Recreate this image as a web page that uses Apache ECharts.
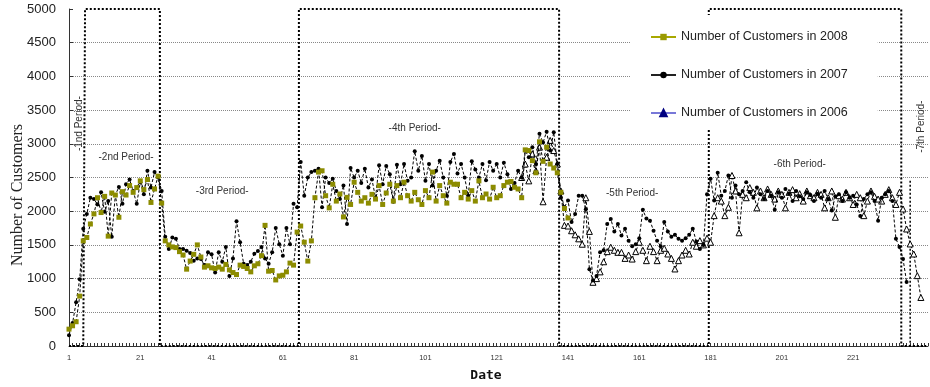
<!DOCTYPE html>
<html>
<head>
<meta charset="utf-8">
<script src="https://cdn.jsdelivr.net/npm/echarts@6/dist/echarts.min.js"></script>
<style>html,body{margin:0;padding:0;background:#fff}#c{width:930px;height:387px}</style>
</head>
<body>
<div id="c"></div>
<script>
// ---------- data ----------
const dayCount = 242;
const days = Array.from({length: dayCount}, (_, i) => String(i + 1));
const tickLabelDays = ['1','21','41','61','81','101','121','141','161','181','201','221'];

const customers2008Start = 1;
const customers2008 = [
  250, 300, 360, 740, 1560, 1610, 1810, 1960, 2200, 1980,
  2220, 1630, 2270, 2240, 1910, 2290, 2240, 2380, 2280, 2350,
  2450, 2320, 2470, 2130, 2330, 2520, 2120,
  1560, 1500, 1470, 1460, 1400, 1350, 1140, 1260, 1360, 1500, 1320, 1170, 1190,
  1160, 1150, 1170, 1140, 1210, 1130, 1090, 1060, 1200, 1180,
  1150, 1100, 1190, 1220, 1340, 1790, 1110, 1120, 980, 1040,
  1050, 1100, 1230, 1200, 1690, 1780, 1540, 1260, 1560,
  2200, 2580, 2600, 2230, 2050, 2400, 2150, 2255, 1915, 2205, 2100,
  2430, 2280, 2150, 2200, 2120, 2250, 2180, 2380, 2100, 2270,
  2400, 2150, 2380, 2200, 2430, 2230, 2150, 2280, 2170, 2100,
  2305, 2200, 2580, 2150, 2380, 2230, 2120, 2430, 2400, 2400,
  2200, 2280, 2180, 2305, 2150, 2450, 2200, 2255, 2180, 2355,
  2200, 2230, 2380, 2430, 2440, 2355, 2330, 2200, 2910, 2900,
  2750, 2570, 3030, 2740, 2950, 2700, 2640, 2570, 2280, 2040, 1900
];

const customers2007Start = 1;
const customers2007 = [
  160, 340, 650, 990, 1740, 1960, 2200, 2180, 2100, 2280,
  1990, 2150, 1620, 2240, 2360, 2110, 2400, 2470, 2300, 2110,
  2430, 2250, 2600, 2350, 2580, 2500, 2300,
  1620, 1440, 1610, 1590, 1440, 1440, 1415, 1380, 1265, 1300, 1290, 1200, 1390,
  1360, 1090, 1390, 1250, 1470, 1040, 1300, 1850, 1540, 1220,
  1200, 1250, 1370, 1410, 1470, 1300, 1220, 1390, 1750, 1510,
  1340, 1750, 1510, 2110, 2060, 2730, 2230, 2500, 2580,
  2600, 2630, 2060, 2500, 2420, 2480, 2300, 2180, 2380, 1810, 2640,
  2500, 2600, 2420, 2630, 2350, 2470, 2200, 2680, 2400, 2670,
  2550, 2140, 2690, 2400, 2700, 2450, 2500, 2890, 2600, 2820,
  2450, 2700, 2380, 2600, 2750, 2500, 2230, 2730, 2850, 2560,
  2700, 2500, 2230, 2740, 2620, 2500, 2700, 2460, 2730, 2600,
  2700, 2500, 2720, 2550, 2330, 2420, 2600, 2500, 2900, 2800,
  2950, 2700, 3150, 3020, 3180, 2900, 3170, 2700, 2200, 2060,
  2160, 1840, 1960, 2230, 2230, 2030, 1140, 970, 1040, 1390,
  1420, 1810, 1885, 1700, 1810, 1640, 1740, 1560, 1480, 1510,
  1600, 2020, 1890, 1860, 1710, 1560, 1480, 1840, 1700, 1620,
  1650, 1590, 1560, 1600, 1650, 1740, 1550, 1440, 1500, 2250,
  2480, 2160, 2570, 2230, 2300, 2530, 2200, 2380, 2250, 2300,
  2430, 2280, 2200, 2350, 2250, 2180, 2300, 2230, 2020, 2280,
  2200, 2330, 2260, 2150, 2300, 2220, 2180, 2280, 2240, 2150,
  2260, 2200, 2300, 2180, 2010, 2220, 2250, 2150, 2280, 2200,
  2230, 2100, 1930, 2180, 2250, 2280, 2150, 1860, 2200, 2250,
  2300, 2150, 1590, 1470, 1290, 950
];

const customers2006Start = 128;
const customers2006 = [
  2500, 2700, 2450, 2850, 2600, 2950, 2140, 2800, 3050, 2900, 2700, 2300, 1790,
  1780, 1710, 1650, 1590, 1510, 2200, 1700, 945, 1000, 1100,
  1250, 1400, 1465, 1420, 1390, 1390, 1300, 1350, 1290, 1400,
  1540, 1420, 1266, 1480, 1400, 1266, 1420, 1450, 1365, 1300,
  1143, 1266, 1350, 1420, 1365, 1539, 1480, 1563, 1500, 1600,
  1539, 1934, 2200, 2150, 1934, 2058, 2530, 2300, 1680, 2250,
  2200, 2350, 2280, 2050, 2300, 2200, 2330, 2250, 2180, 2300,
  2250, 2050, 2280, 2320, 2200, 2260, 2150, 2300, 2230, 2200,
  2280, 2250, 2050, 2200, 2300, 1910, 2230, 2180, 2280, 2200,
  2100, 2250, 2200, 1934, 2150, 2300, 2220, 2180, 2150, 2250,
  2320, 2200, 2100, 2280, 2033, 1736, 1514, 1365, 1044, 720
];

// period structure: last day of periods 1..6, last day drawn, high/low level
const periodLastDays = [5, 26, 65, 138, 180, 234];
const periodLineEndDay = 241;
const periodHigh = 5000;
const periodLow = 0;
// secondary boundary of the 7th period
const seventhBoundary = { day: '237', top: 2450, endDay: '241' };

const periodNames = ['-1nd Period-', '-2nd Period-', '-3rd Period-', '-4th Period-', '-5th Period-', '-6th Period-', '-7th Period-'];
// label anchors (day, value, rotation) - layout only
const periodLabelDays = ['4', '17', '44', '98', '159', '206', '240'];
const periodLabelValues = [3300, 2800, 2290, 3230, 2266, 2696, 3254];
const periodLabelRotate = [90, 0, 0, 0, 0, 0, 90];

const seriesNames = ['Number of Customers in 2008', 'Number of Customers in 2007', 'Number of Customers in 2006'];

// ---------- build ----------
function place(values, startDay) {
  const out = new Array(dayCount).fill(null);
  values.forEach((v, i) => { out[startDay - 1 + i] = v; });
  return out;
}
const periodLevels = days.map((d, i) => {
  const day = i + 1;
  if (day > periodLineEndDay) return null;
  const k = periodLastDays.filter(e => day > e).length;
  return k % 2 ? periodHigh : periodLow;
});

const FONT = 'Liberation Sans';
const chart = echarts.init(document.getElementById('c'), null, {renderer: 'canvas'});
const dashed = {color: '#000', width: 1, type: [3, 2]};

chart.setOption({
  animation: false,
  backgroundColor: '#fff',
  textStyle: {fontFamily: FONT},
  grid: {left: 69, right: 2, top: 9, bottom: 41},
  xAxis: {
    type: 'category', data: days, boundaryGap: false,
    axisLine: {lineStyle: {color: '#333', width: 1}},
    axisTick: {inside: true, length: 3, interval: 0, lineStyle: {color: '#333'}},
    axisLabel: {
      interval: (idx, val) => tickLabelDays.indexOf(val) >= 0,
      fontSize: 7.5, color: '#333', margin: 8, fontFamily: FONT
    },
    splitLine: {show: false}
  },
  yAxis: {
    type: 'value', min: 0, max: 5000, interval: 500,
    axisLine: {show: true, lineStyle: {color: '#333'}},
    axisTick: {show: true, inside: true, length: 4, lineStyle: {color: '#333'}},
    axisLabel: {fontSize: 13, color: '#222', margin: 13, fontFamily: FONT, formatter: v => String(v)},
    splitLine: {show: true, showMaxLine: false, showMinLine: false, lineStyle: {color: '#888', type: [1, 1], width: 1}}
  },
  legend: {
    orient: 'vertical', left: 630, top: 15,
    padding: [15, 30, 8, 20],
    backgroundColor: '#fff',
    itemWidth: 25, itemHeight: 8, itemGap: 24,
    textStyle: {fontSize: 12.5, color: '#222', lineHeight: 14, fontFamily: FONT},
    data: [
      {name: seriesNames[0], itemStyle: {color: '#9a9a00', borderWidth: 0}, lineStyle: {color: '#a8a800', type: 'solid', width: 2}},
      {name: seriesNames[1], itemStyle: {color: '#000', borderWidth: 0}, lineStyle: {color: '#222', type: 'solid', width: 2}},
      {name: seriesNames[2], itemStyle: {color: '#000080', borderColor: '#000080'}, lineStyle: {color: '#7878d8', type: 'solid', width: 2}}
    ]
  },
  graphic: [
    {type: 'text', x: 17.5, y: 195, rotation: Math.PI / 2,
     style: {text: 'Number of Customers', font: '16px "Liberation Serif"', fill: '#222', textAlign: 'center', textVerticalAlign: 'middle'}},
    {type: 'text', x: 486, y: 376,
     style: {text: 'Date', font: 'bold 13px "DejaVu Sans Mono"', fill: '#111', textAlign: 'center', textVerticalAlign: 'middle'}}
  ],
  series: [
    {
      name: 'periods', type: 'line', step: 'middle', data: periodLevels,
      symbol: 'none', silent: true, z: 2,
      lineStyle: {color: '#000', width: 2, type: [2, 2]},
      markPoint: {
        symbol: 'circle', symbolSize: 0, silent: true,
        label: {show: true, position: 'inside', color: '#333', fontSize: 10, fontFamily: FONT, formatter: p => p.name},
        data: periodNames.map((n, i) => ({
          name: n, coord: [periodLabelDays[i], periodLabelValues[i]],
          label: {rotate: periodLabelRotate[i]}
        }))
      }
    },
    {
      name: 'period7', type: 'line', symbol: 'none', silent: true, z: 2,
      data: [[seventhBoundary.day, seventhBoundary.top], [seventhBoundary.day, periodLow], [seventhBoundary.endDay, periodLow]],
      lineStyle: {color: '#000', width: 1.5, type: [2, 2]}
    },
    {
      name: seriesNames[2], type: 'line', data: place(customers2006, customers2006Start),
      symbol: 'triangle', symbolSize: 6, showAllSymbol: true, z: 3,
      itemStyle: {color: '#fff', borderColor: '#000', borderWidth: 1},
      lineStyle: dashed
    },
    {
      name: seriesNames[1], type: 'line', data: place(customers2007, customers2007Start),
      symbol: 'circle', symbolSize: 4, showAllSymbol: true, z: 4,
      itemStyle: {color: '#000'},
      lineStyle: dashed
    },
    {
      name: seriesNames[0], type: 'line', data: place(customers2008, customers2008Start),
      symbol: 'rect', symbolSize: 5, showAllSymbol: true, z: 5,
      itemStyle: {color: '#8c8c00'},
      lineStyle: dashed
    }
  ]
});
</script>
</body>
</html>
